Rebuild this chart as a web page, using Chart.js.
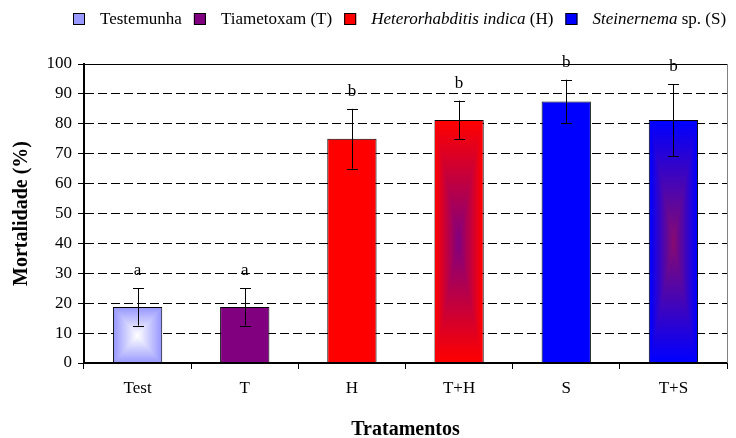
<!DOCTYPE html>
<html>
<head>
<meta charset="utf-8">
<script src="https://cdn.jsdelivr.net/npm/chart.js@4"></script>
<style>
  html, body { margin: 0; padding: 0; background: #fff; }
</style>
</head>
<body>
<canvas id="mortalityChart" width="736" height="438"></canvas>
<script>
// Treatments, mean mortality (%), error half-widths and significance letters
const treatments = ["Test", "T", "H", "T+H", "S", "T+S"];
const mortality = [18.75, 18.75, 75, 81.25, 87.5, 81.25];
const errors = [6.25, 6.25, 10, 6.5, 7.25, 12];
const letters = ["a", "a", "b", "b", "b", "b"];
const yTicks = [0, 10, 20, 30, 40, 50, 60, 70, 80, 90, 100];

// Legend entries: [text, italic] pieces
const legendNames = [
  [["Testemunha", false]],
  [["Tiametoxam (T)", false]],
  [["Heterorhabditis indica", true], [" (H)", false]],
  [["Steinernema", true], [" sp. (S)", false]],
];
const legendColors = ["#9999ff", "#800080", "#ff0000", "#0000ff"];

// Bar fills: edge colour, and centre colour for the "from centre" gradients
const edgeColors = ["#9999ff", "#800080", "#ff0000", "#ff0000", "#0000ff", "#0000ff"];
const centerColors = ["#ffffff", null, null, "#800080", null, "#880a70"];

const FONT = "'Liberation Serif', 'Times New Roman', serif";

function hexRgb(h) {
  return [1, 3, 5].map(i => parseInt(h.slice(i, i + 2), 16));
}

// gradient fills, error bars and letters on top of the bars
const barExtras = {
  id: "barExtras",
  afterDatasetsDraw(chart) {
    const ctx = chart.ctx;
    const yScale = chart.scales.y;
    const meta = chart.getDatasetMeta(0);
    meta.data.forEach((bar, i) => {
      const p = bar.getProps(["x", "y", "base", "width"], true);
      const left = p.x - p.width / 2;
      if (centerColors[i]) {
        const w = Math.round(p.width - 2);
        const h = Math.round(p.base - p.y - 1);
        const off = document.createElement("canvas");
        off.width = w;
        off.height = h;
        const octx = off.getContext("2d");
        const img = octx.createImageData(w, h);
        const a = hexRgb(edgeColors[i]);
        const b = hexRgb(centerColors[i]);
        for (let r = 0; r < h; r++) {
          for (let c = 0; c < w; c++) {
            const dx = Math.abs(((c + 0.5) / w) * 2 - 1);
            const dy = Math.abs(((r + 0.5) / h) * 2 - 1);
            const t = Math.max(dx, dy);
            const k = (r * w + c) * 4;
            for (let ch = 0; ch < 3; ch++) {
              img.data[k + ch] = Math.round(b[ch] + (a[ch] - b[ch]) * t);
            }
            img.data[k + 3] = 255;
          }
        }
        octx.putImageData(img, 0, 0);
        ctx.drawImage(off, Math.round(left + 1), Math.round(p.y + 1));
      }

      const top = yScale.getPixelForValue(mortality[i] + errors[i]);
      const bot = yScale.getPixelForValue(mortality[i] - errors[i]);
      const x = Math.round(p.x) + 0.5;
      ctx.save();
      ctx.strokeStyle = "#000";
      ctx.lineWidth = 1;
      ctx.beginPath();
      ctx.moveTo(x, top);
      ctx.lineTo(x, bot);
      ctx.moveTo(x - 5.5, Math.round(top) + 0.5);
      ctx.lineTo(x + 5.5, Math.round(top) + 0.5);
      ctx.moveTo(x - 5.5, Math.round(bot) + 0.5);
      ctx.lineTo(x + 5.5, Math.round(bot) + 0.5);
      ctx.stroke();

      ctx.fillStyle = "#000";
      ctx.font = "17px " + FONT;
      ctx.textAlign = "center";
      ctx.textBaseline = "alphabetic";
      ctx.fillText(letters[i], p.x, top - 13);
      ctx.restore();
    });
  },
  afterDraw(chart) {
    const ctx = chart.ctx;
    const area = chart.chartArea;
    ctx.save();
    // right frame
    ctx.strokeStyle = "#808080";
    ctx.lineWidth = 1;
    ctx.beginPath();
    ctx.moveTo(Math.round(area.right) + 0.5, area.top);
    ctx.lineTo(Math.round(area.right) + 0.5, area.bottom);
    ctx.stroke();

    // legend
    let x = 73;
    const yMid = 19;
    ctx.textBaseline = "middle";
    ctx.textAlign = "left";
    legendNames.forEach((parts, i) => {
      ctx.fillStyle = legendColors[i];
      ctx.fillRect(x, yMid - 6, 12, 12);
      ctx.strokeStyle = "#000";
      ctx.strokeRect(x + 0.5, yMid - 5.5, 11, 11);
      x += 12 + 15;
      parts.forEach(([text, italic]) => {
        ctx.font = (italic ? "italic " : "") + "17px " + FONT;
        ctx.fillStyle = "#000";
        ctx.fillText(text, x, yMid + 1);
        x += ctx.measureText(text).width;
      });
      x += 12;
    });
    ctx.restore();
  },
};

Chart.defaults.color = "#000";
Chart.defaults.font.family = FONT;

new Chart(document.getElementById("mortalityChart").getContext("2d"), {
  type: "bar",
  data: {
    labels: treatments,
    datasets: [
      {
        data: mortality,
        backgroundColor: edgeColors,
        borderColor: "#000",
        borderWidth: 1,
        borderSkipped: "start",
        categoryPercentage: 1,
        barPercentage: 0.46,
      },
    ],
  },
  options: {
    responsive: false,
    animation: false,
    events: [],
    layout: { padding: { top: 64, right: 9, left: 0, bottom: 0 } },
    plugins: {
      legend: { display: false },
      tooltip: { enabled: false },
    },
    scales: {
      x: {
        afterFit: s => { s.height = 75; },
        grid: {
          drawOnChartArea: false,
          tickLength: 6,
          tickColor: "#000",
        },
        border: { color: "#000", width: 2, z: 1 },
        ticks: { font: { size: 17 }, padding: 9 },
        title: {
          display: true,
          text: "Tratamentos",
          font: { size: 20, weight: "bold" },
          padding: { top: 0, bottom: -4 },
        },
      },
      y: {
        min: 0,
        max: 100,
        afterBuildTicks: s => { s.ticks = yTicks.map(v => ({ value: v })); },
        afterFit: s => { s.width = 84; },
        grid: {
          color: "#000",
          tickColor: "#000",
          tickLength: 6,
          tickBorderDash: [],
        },
        border: {
          color: "#000",
          width: 2,
          dash: c => (c.tick && (c.tick.value === 0 || c.tick.value === 100) ? [] : [9, 4]),
        },
        ticks: { font: { size: 17 }, padding: 6 },
        title: {
          display: true,
          text: "Mortalidade (%)",
          font: { size: 20, weight: "bold" },
          padding: { top: 10, bottom: 0 },
        },
      },
    },
  },
  plugins: [barExtras],
});
</script>
</body>
</html>
